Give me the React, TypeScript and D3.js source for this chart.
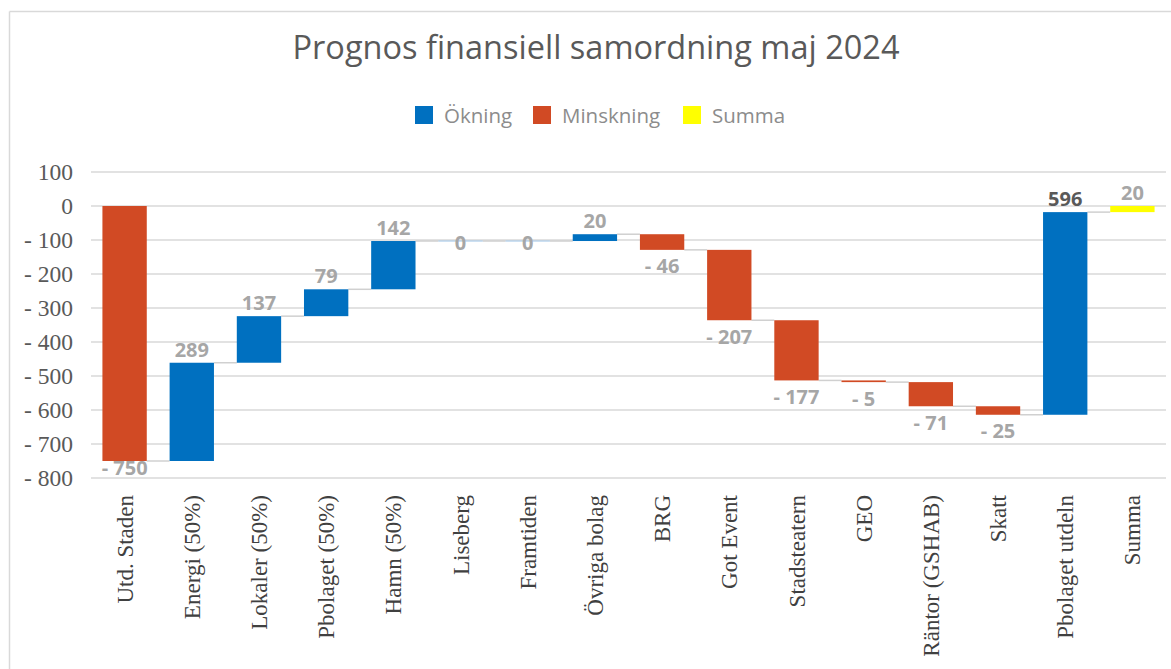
import React from "react";
import * as d3 from "d3";

const categories = [
  "Utd. Staden", "Energi (50%)", "Lokaler (50%)", "Pbolaget (50%)", "Hamn (50%)",
  "Liseberg", "Framtiden", "Övriga bolag", "BRG", "Got Event", "Stadsteatern",
  "GEO", "Räntor (GSHAB)", "Skatt", "Pbolaget utdeln", "Summa",
];
// change per step (last entry = total, computed from running sum)
const deltas = [-750, 289, 137, 79, 142, 0, 0, 20, -46, -207, -177, -5, -71, -25, 596];
const summaLabel = "20";
const yTicks = [100, 0, -100, -200, -300, -400, -500, -600, -700, -800];
const legendItems = [
  { name: "Ökning", color: "#0070C0" },
  { name: "Minskning", color: "#D14A24" },
  { name: "Summa", color: "#FFFF00" },
];

const W = 1171, H = 669;
const BLUE = "#0070C0", RED = "#D14A24", YELLOW = "#FFFF00";
const SANS = "'Open Sans', 'Noto Sans', sans-serif";
const SERIF = "'Liberation Serif', 'Times New Roman', serif";

function fmt(v: number) {
  return v < 0 ? "- " + Math.abs(v) : String(v);
}

export default function App() {
  const y = d3.scaleLinear().domain([-800, 100]).range([478, 172]);
  const x = d3.scaleBand<string>().domain(categories).range([91, 1166]).paddingInner(0.34).paddingOuter(0.17);
  const bw = x.bandwidth();

  type Bar = { cat: string; start: number; end: number; v: number; kind: string; label: string };
  const bars: Bar[] = [];
  let run = 0;
  deltas.forEach((d, i) => {
    const start = run;
    run += d;
    bars.push({ cat: categories[i], start, end: run, v: d, kind: d > 0 ? "up" : d < 0 ? "down" : "zero", label: fmt(d) });
  });
  bars.push({ cat: categories[categories.length - 1], start: 0, end: run, v: run, kind: "sum", label: summaLabel });

  const color = (k: string) => (k === "up" ? BLUE : k === "down" ? RED : k === "sum" ? YELLOW : "#9DC3E6");

  return (
    <svg width={W} height={H} style={{ position: "absolute", left: 0, top: 0, background: "#fff" }}>
      {/* frame */}
      <line x1={9.5} y1={11.5} x2={W} y2={11.5} stroke="#d9d9d9" strokeWidth={1.5} />
      <line x1={9.5} y1={11.5} x2={9.5} y2={H} stroke="#d9d9d9" strokeWidth={1.5} />

      <text x={596} y={59} textAnchor="middle" fontFamily={SANS} fontSize={32.5} fill="#595959">
        Prognos finansiell samordning maj 2024
      </text>

      {/* legend */}
      {(() => {
        const pos = [415, 533, 683];
        return legendItems.map((it, i) => (
          <g key={it.name}>
            <rect x={pos[i]} y={106} width={18} height={18} fill={it.color} />
            <text x={pos[i] + 29} y={122.5} fontFamily={SANS} fontSize={20.5} fill="#8c8c8c">{it.name}</text>
          </g>
        ));
      })()}

      {/* gridlines */}
      {yTicks.map((t) => (
        <line key={t} x1={91} x2={1166} y1={y(t)} y2={y(t)} stroke="#d9d9d9" strokeWidth={1.5} />
      ))}
      {yTicks.map((t) => (
        <text key={"l" + t} x={73} y={y(t)} dy="0.35em" textAnchor="end" fontFamily={SERIF} fontSize={23.5} fill="#595959">
          {fmt(t)}
        </text>
      ))}

      {/* connectors */}
      {bars.slice(0, -1).map((b, i) => {
        const next = bars[i + 1];
        const x1 = (x(b.cat) as number) + bw;
        const x2 = x(next.cat) as number;
        return <line key={"c" + i} x1={x1} x2={x2} y1={y(b.end)} y2={y(b.end)} stroke="#d0d0d0" strokeWidth={1.5} />;
      })}

      {/* bars */}
      {bars.map((b, i) => {
        const x0 = x(b.cat) as number;
        const top = y(Math.max(b.start, b.end));
        const bot = y(Math.min(b.start, b.end));
        const h = Math.max(bot - top, 1);
        return <rect key={"b" + i} x={x0} y={b.kind === "zero" ? top - 0.5 : top} width={bw} height={h} fill={color(b.kind)} />;
      })}

      {/* data labels */}
      {bars.map((b, i) => {
        const cx = (x(b.cat) as number) + bw / 2;
        let cy: number;
        if (b.kind === "zero") cy = y(b.end) + 1.5;
        else if (b.kind === "up") cy = y(b.end) - 13;
        else if (b.kind === "sum") cy = y(b.start) - 13;
        else cy = Math.min(y(b.end) + 16.5, y(-800) - 10);
        const dark = i === 14;
        return (
          <text key={"t" + i} x={cx} y={cy} dy="0.35em" textAnchor="middle" fontFamily={SANS} fontWeight="bold"
            fontSize={20} fill={dark ? "#595959" : "#a6a6a6"}>
            {b.label}
          </text>
        );
      })}

      {/* x labels */}
      {categories.map((c) => {
        const cx = (x(c) as number) + bw / 2;
        return (
          <text key={"x" + c} transform={`translate(${cx},495) rotate(-90)`} dy="0.35em" textAnchor="end"
            fontFamily={SERIF} fontSize={23} fill="#404040">
            {c}
          </text>
        );
      })}
    </svg>
  );
}
